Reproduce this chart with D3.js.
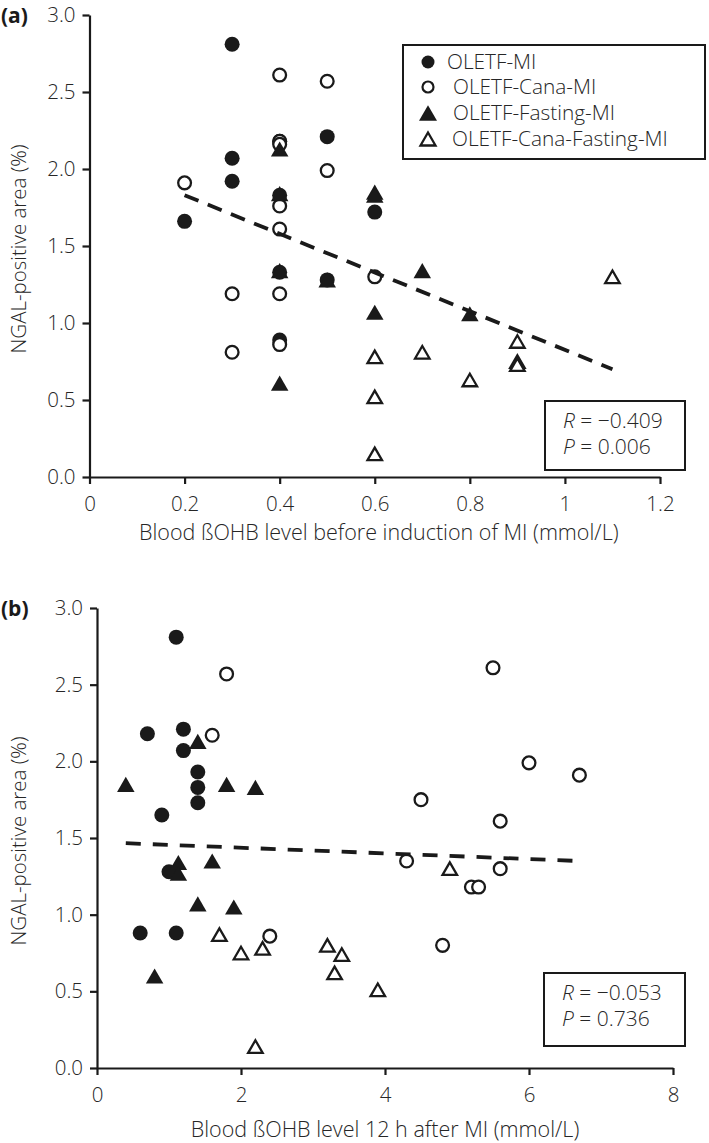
<!DOCTYPE html>
<html>
<head>
<meta charset="utf-8">
<script src="https://cdn.jsdelivr.net/npm/d3@7"></script>
<style>
  html, body { margin: 0; padding: 0; background: #fff; }
  svg { display: block; font-family: "Open Sans", sans-serif; font-weight: 300; }
</style>
</head>
<body>
<div id="chart"></div>
<script>
// ---------------- DATA ----------------
const groups = ["OLETF-MI", "OLETF-Cana-MI", "OLETF-Fasting-MI", "OLETF-Cana-Fasting-MI"];

// Panel (a): blood ßOHB before MI (mmol/L) vs NGAL-positive area (%)
const aMI = [[0.2,1.66],[0.3,2.81],[0.3,2.07],[0.3,1.92],[0.4,2.18],[0.4,1.83],[0.4,1.33],[0.4,0.89],[0.5,2.21],[0.5,1.28],[0.6,1.72]];
const aCanaMI = [[0.2,1.91],[0.3,1.19],[0.3,0.81],[0.4,2.61],[0.4,2.18],[0.4,2.16],[0.4,1.76],[0.4,1.61],[0.4,1.19],[0.4,0.86],[0.5,2.57],[0.5,1.99],[0.6,1.30]];
const aFastMI = [[0.4,2.13],[0.4,1.84],[0.4,1.34],[0.4,0.61],[0.5,1.28],[0.6,1.85],[0.6,1.83],[0.6,1.07],[0.7,1.34],[0.8,1.06]];
const aCanaFastMI = [[0.6,0.78],[0.6,0.52],[0.6,0.15],[0.7,0.81],[0.8,0.63],[0.9,0.88],[0.9,0.75],[0.9,0.73],[1.1,1.30]];
const aTrend = [[0.2,1.83],[1.1,0.70]];
const aXTicks = [0, 0.2, 0.4, 0.6, 0.8, 1, 1.2];
const aXTickLabels = ["0", "0.2", "0.4", "0.6", "0.8", "1", "1.2"];
const aStats = ["−0.409", "0.006"];

// Panel (b): blood ßOHB 12 h after MI (mmol/L) vs NGAL-positive area (%)
const bMI = [[1.1,2.81],[0.7,2.18],[1.2,2.21],[1.2,2.07],[1.4,1.93],[1.4,1.83],[1.4,1.73],[0.9,1.65],[1.0,1.28],[0.6,0.88],[1.1,0.88]];
const bCanaMI = [[1.8,2.57],[1.6,2.17],[5.5,2.61],[6.0,1.99],[6.7,1.91],[4.5,1.75],[5.6,1.61],[4.3,1.35],[5.6,1.30],[5.2,1.18],[5.3,1.18],[4.8,0.80],[2.4,0.86]];
const bFastMI = [[0.4,1.85],[1.4,2.13],[1.8,1.85],[2.2,1.83],[1.13,1.34],[1.13,1.27],[1.6,1.35],[1.4,1.07],[1.9,1.05],[0.8,0.60]];
const bCanaFastMI = [[1.7,0.87],[2.0,0.75],[2.3,0.78],[2.2,0.14],[3.2,0.80],[3.4,0.74],[3.3,0.62],[3.9,0.51],[4.9,1.30]];
const bTrend = [[0.4,1.466],[6.7,1.35]];
const bXTicks = [0, 2, 4, 6, 8];
const bXTickLabels = ["0", "2", "4", "6", "8"];
const bStats = ["−0.053", "0.736"];

const yTicks = [0, 0.5, 1.0, 1.5, 2.0, 2.5, 3.0];
const yTickLabels = ["0.0", "0.5", "1.0", "1.5", "2.0", "2.5", "3.0"];

// ---------------- DRAW ----------------
const W = 709, H = 1143;
const ink = "#1a1a1a";
const txt = "#262626";
const svg = d3.select("#chart").append("svg").attr("width", W).attr("height", H);
svg.append("rect").attr("width", W).attr("height", H).attr("fill", "#fff");

// triangle symbol centred on its bounding box
const triType = {
  draw(ctx, size) {
    const s = Math.sqrt(size), h = s * Math.sqrt(3) / 2;
    ctx.moveTo(0, -h / 2);
    ctx.lineTo(s / 2, h / 2);
    ctx.lineTo(-s / 2, h / 2);
    ctx.closePath();
  }
};

function drawMarks(g, data, kind, x, y) {
  const sel = g.append("g");
  if (kind === 0 || kind === 1) {
    sel.selectAll("circle").data(data).join("circle")
      .attr("cx", d => x(d[0])).attr("cy", d => y(d[1]))
      .attr("r", kind === 0 ? 7.5 : 6.4)
      .attr("fill", kind === 0 ? ink : "#fff")
      .attr("stroke", ink).attr("stroke-width", kind === 0 ? 0 : 2.3);
  } else {
    const filled = kind === 2;
    sel.selectAll("path").data(data).join("path")
      .attr("transform", d => `translate(${x(d[0])},${y(d[1])})`)
      .attr("d", d3.symbol().type(triType).size(filled ? 17.5 * 17.5 : 14.5 * 14.5)())
      .attr("fill", filled ? ink : "#fff")
      .attr("stroke", ink).attr("stroke-width", filled ? 0 : 2.3)
      .attr("stroke-linejoin", "miter");
  }
}

function panel(cfg) {
  const x = d3.scaleLinear().domain([cfg.xTicks[0], cfg.xTicks[cfg.xTicks.length - 1]]).range([cfg.x0, cfg.x1]);
  const y = d3.scaleLinear().domain([0, 3]).range([cfg.y0, cfg.y1]);
  const g = svg.append("g");

  // axes
  const yAxis = d3.axisLeft(y).tickValues(yTicks).tickFormat((d, i) => yTickLabels[i])
    .tickSize(7).tickSizeOuter(0).tickPadding(7);
  const xAxis = d3.axisBottom(x).tickValues(cfg.xTicks).tickFormat((d, i) => cfg.xLabels[i])
    .tickSize(7).tickSizeOuter(0).tickPadding(12);
  const ya = g.append("g").attr("transform", `translate(${cfg.x0},0)`).call(yAxis);
  const xa = g.append("g").attr("transform", `translate(0,${cfg.y0})`).call(xAxis);
  [ya, xa].forEach(a => {
    a.select(".domain").attr("stroke", ink).attr("stroke-width", 2.2);
    a.selectAll(".tick line").attr("stroke", ink).attr("stroke-width", 2.2);
    a.selectAll(".tick text").attr("fill", txt).attr("font-size", 20.5)
      .attr("font-family", "Open Sans, sans-serif").attr("font-weight", 300);
  });

  // marks (order: filled circles, open circles, triangles)
  drawMarks(g, cfg.data[0], 0, x, y);
  drawMarks(g, cfg.data[1], 1, x, y);
  drawMarks(g, cfg.data[2], 2, x, y);
  drawMarks(g, cfg.data[3], 3, x, y);

  // trend line
  g.append("path").datum(cfg.trend)
    .attr("d", d3.line().x(d => x(d[0])).y(d => y(d[1])))
    .attr("fill", "none").attr("stroke", ink).attr("stroke-width", 3.8)
    .attr("stroke-dasharray", cfg.dash);

  // axis titles
  g.append("text").attr("x", (cfg.x0 + cfg.x1) / 2 + cfg.xTitleDx).attr("y", cfg.y0 + cfg.xTitleDy)
    .attr("text-anchor", "middle").attr("font-size", 21.5).attr("fill", txt)
    .text(cfg.xTitle);
  g.append("text")
    .attr("transform", `translate(26,${(cfg.y0 + cfg.y1) / 2 + 3}) rotate(-90)`)
    .attr("text-anchor", "middle").attr("font-size", 20.5).attr("fill", txt)
    .text("NGAL-positive area (%)");

  // panel label
  g.append("text").attr("x", 1).attr("y", cfg.y1 + 8).attr("font-size", 21)
    .attr("font-weight", "bold").attr("fill", ink).text(cfg.label);

  // stats box
  const sb = cfg.statBox;
  g.append("rect").attr("x", sb[0]).attr("y", sb[1]).attr("width", sb[2]).attr("height", sb[3])
    .attr("fill", "#fff").attr("stroke", ink).attr("stroke-width", 2);
  const t1 = g.append("text").attr("x", sb[0] + 18).attr("y", sb[1] + 27).attr("font-size", 21).attr("fill", txt);
  t1.append("tspan").attr("font-style", "italic").text("R");
  t1.append("tspan").text(" = " + cfg.stats[0]);
  const t2 = g.append("text").attr("x", sb[0] + 18).attr("y", sb[1] + 53).attr("font-size", 21).attr("fill", txt);
  t2.append("tspan").attr("font-style", "italic").text("P");
  t2.append("tspan").text(" = " + cfg.stats[1]);

  return { x, y, g };
}

panel({
  x0: 89.5, x1: 660, y0: 477, y1: 15,
  xTicks: aXTicks, xLabels: aXTickLabels,
  data: [aMI, aCanaMI, aFastMI, aCanaFastMI], trend: aTrend, dash: "15,10",
  xTitle: "Blood ßOHB level before induction of MI (mmol/L)", xTitleDx: 4, xTitleDy: 63,
  label: "(a)", statBox: [545, 401, 140, 69], stats: aStats
});

panel({
  x0: 97, x1: 673, y0: 1068, y1: 608,
  xTicks: bXTicks, xLabels: bXTickLabels,
  data: [bMI, bCanaMI, bFastMI, bCanaFastMI], trend: bTrend, dash: "15,12",
  xTitle: "Blood ßOHB level 12 h after MI (mmol/L)", xTitleDx: 0, xTitleDy: 69,
  label: "(b)", statBox: [544, 973, 141, 73], stats: bStats
});

// legend (panel a)
const lg = svg.append("g");
lg.append("rect").attr("x", 403).attr("y", 45).attr("width", 302).attr("height", 114)
  .attr("fill", "#fff").attr("stroke", ink).attr("stroke-width", 2);
const rowY = [62, 87, 113, 139];
const textX = [447, 453, 453, 452];
groups.forEach((name, i) => {
  const cy = rowY[i], cx = 428;
  if (i < 2) {
    lg.append("circle").attr("cx", cx).attr("cy", cy).attr("r", i === 0 ? 6.5 : 5.5)
      .attr("fill", i === 0 ? ink : "#fff").attr("stroke", ink).attr("stroke-width", i === 0 ? 0 : 2.2);
  } else {
    lg.append("path").attr("transform", `translate(${cx},${cy})`)
      .attr("d", d3.symbol().type(triType).size(i === 2 ? 18 * 18 : 15 * 15)())
      .attr("fill", i === 2 ? ink : "#fff").attr("stroke", ink).attr("stroke-width", i === 2 ? 0 : 2.3);
  }
  lg.append("text").attr("x", textX[i]).attr("y", cy + 7).attr("font-size", 20.8).attr("fill", txt).text(name);
});
</script>
</body>
</html>
